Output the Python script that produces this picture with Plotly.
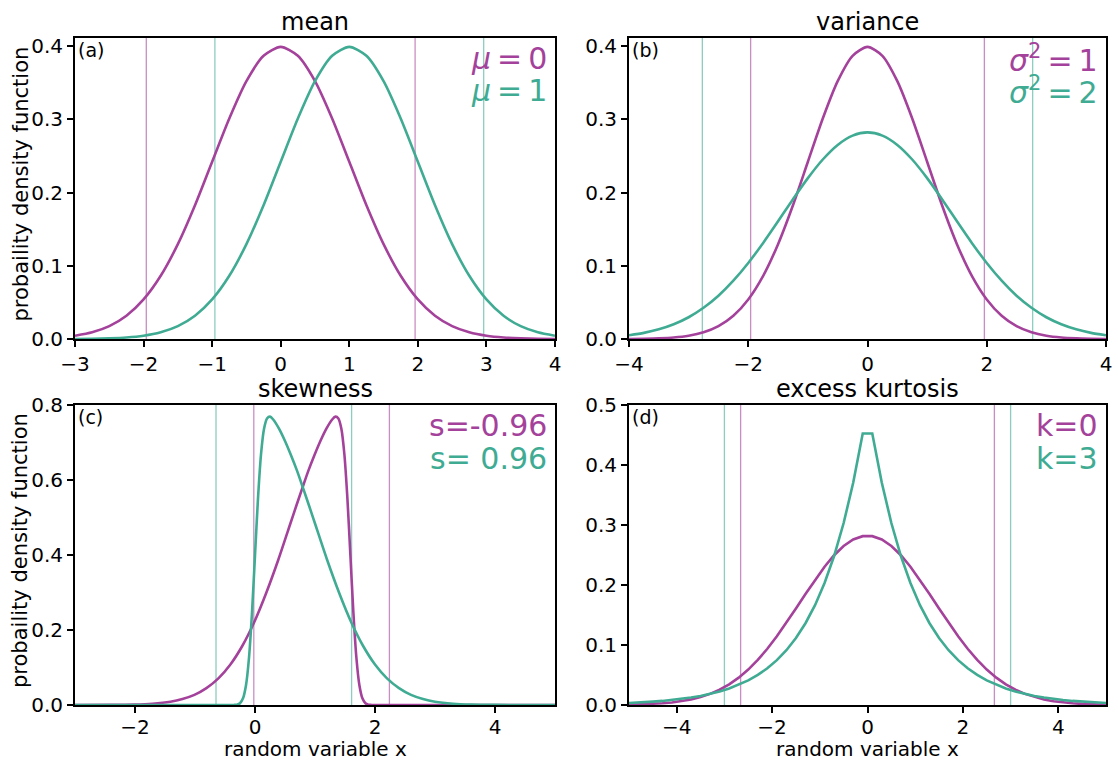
import plotly.graph_objects as go

W, H = 1118, 760
FONT = "DejaVu Sans"
PURPLE = "#a4429b"
TEAL = "#40ab93"
PURPLE_VLINE = "rgba(164,66,155,0.6)"
TEAL_VLINE = "rgba(64,171,147,0.6)"
THIN = "\u2009"

# ---------------- (a) mean ----------------
x_mean = [-3.0, -2.75, -2.5, -2.25, -2.0, -1.75, -1.5, -1.25, -1.0, -0.75, -0.5, -0.25,
          0.0, 0.25, 0.5, 0.75, 1.0, 1.25, 1.5, 1.75, 2.0, 2.25, 2.5, 2.75, 3.0, 3.25,
          3.5, 3.75, 4.0]
pdf_mu0 = [0.0044, 0.0091, 0.0175, 0.0317, 0.0540, 0.0863, 0.1295, 0.1826, 0.2420, 0.3011,
           0.3521, 0.3867, 0.3989, 0.3867, 0.3521, 0.3011, 0.2420, 0.1826, 0.1295, 0.0863,
           0.0540, 0.0317, 0.0175, 0.0091, 0.0044, 0.0020, 0.0009, 0.0004, 0.0001]
pdf_mu1 = [0.0001, 0.0004, 0.0009, 0.0020, 0.0044, 0.0091, 0.0175, 0.0317, 0.0540, 0.0863,
           0.1295, 0.1826, 0.2420, 0.3011, 0.3521, 0.3867, 0.3989, 0.3867, 0.3521, 0.3011,
           0.2420, 0.1826, 0.1295, 0.0863, 0.0540, 0.0317, 0.0175, 0.0091, 0.0044]
bounds_mu0 = [-1.96, 1.96]
bounds_mu1 = [-0.96, 2.96]

# ---------------- (b) variance ----------------
x_var = [-4.0, -3.75, -3.5, -3.25, -3.0, -2.75, -2.5, -2.25, -2.0, -1.75, -1.5, -1.25,
         -1.0, -0.75, -0.5, -0.25, 0.0, 0.25, 0.5, 0.75, 1.0, 1.25, 1.5, 1.75, 2.0, 2.25,
         2.5, 2.75, 3.0, 3.25, 3.5, 3.75, 4.0]
pdf_var1 = [0.0001, 0.0004, 0.0009, 0.0020, 0.0044, 0.0091, 0.0175, 0.0317, 0.0540, 0.0863,
            0.1295, 0.1826, 0.2420, 0.3011, 0.3521, 0.3867, 0.3989, 0.3867, 0.3521, 0.3011,
            0.2420, 0.1826, 0.1295, 0.0863, 0.0540, 0.0317, 0.0175, 0.0091, 0.0044, 0.0020,
            0.0009, 0.0004, 0.0001]
pdf_var2 = [0.0052, 0.0084, 0.0132, 0.0201, 0.0297, 0.0426, 0.0591, 0.0796, 0.1038, 0.1312,
            0.1607, 0.1909, 0.2197, 0.2451, 0.2650, 0.2777, 0.2821, 0.2777, 0.2650, 0.2451,
            0.2197, 0.1909, 0.1607, 0.1312, 0.1038, 0.0796, 0.0591, 0.0426, 0.0297, 0.0201,
            0.0132, 0.0084, 0.0052]
bounds_var1 = [-1.96, 1.96]
bounds_var2 = [-2.77, 2.77]

# ---------------- (c) skewness ----------------
x_skew_pos = [-3.0, -1.0, -0.5, -0.4, -0.35, -0.3, -0.25, -0.2, -0.15, -0.1, -0.05, 0.0,
              0.05, 0.1, 0.15, 0.2, 0.25, 0.3, 0.4, 0.5, 0.6, 0.7, 0.8, 0.9, 1.0, 1.2,
              1.4, 1.6, 1.8, 2.0, 2.2, 2.4, 2.6, 2.8, 3.0, 3.3, 3.6, 4.0, 4.5, 5.0]
pdf_skew_pos = [0.0, 0.0, 0.0, 0.00002, 0.0002, 0.001, 0.0048, 0.0178, 0.0527, 0.126,
                0.246, 0.399, 0.551, 0.668, 0.736, 0.764, 0.769, 0.762, 0.737, 0.704,
                0.666, 0.625, 0.579, 0.532, 0.484, 0.388, 0.300, 0.222, 0.158, 0.108,
                0.071, 0.045, 0.027, 0.016, 0.0089, 0.0035, 0.0012, 0.0003, 0.00003, 0.0]
x_skew_neg = [-3.0, -2.41, -2.01, -1.71, -1.41, -1.21, -1.01, -0.81, -0.61, -0.41, -0.21,
              -0.01, 0.19, 0.39, 0.59, 0.69, 0.79, 0.89, 0.99, 1.09, 1.19, 1.29, 1.34,
              1.39, 1.44, 1.49, 1.54, 1.59, 1.64, 1.69, 1.74, 1.79, 1.84, 1.89, 1.94,
              1.99, 2.09, 2.59, 5.0]
pdf_skew_neg = [0.0, 0.0003, 0.0012, 0.0035, 0.0089, 0.016, 0.027, 0.045, 0.071, 0.108,
                0.158, 0.222, 0.300, 0.388, 0.484, 0.532, 0.579, 0.625, 0.666, 0.704,
                0.737, 0.762, 0.769, 0.764, 0.736, 0.668, 0.551, 0.399, 0.246, 0.126,
                0.0527, 0.0178, 0.0048, 0.001, 0.0002, 0.00002, 0.0, 0.0, 0.0]
bounds_skew_neg = [-0.02, 2.24]
bounds_skew_pos = [-0.65, 1.61]

# ---------------- (d) excess kurtosis ----------------
x_kurt = [-5.0, -4.9, -4.7, -4.5, -4.3, -4.1, -3.9, -3.7, -3.5, -3.3, -3.1, -2.9, -2.7,
          -2.5, -2.3, -2.1, -1.9, -1.7, -1.5, -1.3, -1.1, -0.9, -0.7, -0.5, -0.3, -0.1,
          0.1, 0.3, 0.5, 0.7, 0.9, 1.1, 1.3, 1.5, 1.7, 1.9, 2.1, 2.3, 2.5, 2.7, 2.9,
          3.1, 3.3, 3.5, 3.7, 3.9, 4.1, 4.3, 4.5, 4.7, 4.9, 5.0]
pdf_k0 = [0.0005, 0.0007, 0.0011, 0.0018, 0.0028, 0.0042, 0.0063, 0.0092, 0.0132, 0.0185,
          0.0255, 0.0344, 0.0456, 0.0591, 0.0752, 0.0937, 0.1144, 0.1370, 0.1607, 0.1849,
          0.2085, 0.2304, 0.2496, 0.2650, 0.2758, 0.2814,
          0.2814, 0.2758, 0.2650, 0.2496, 0.2304, 0.2085, 0.1849, 0.1607, 0.1370, 0.1144,
          0.0937, 0.0752, 0.0591, 0.0456, 0.0344, 0.0255, 0.0185, 0.0132, 0.0092, 0.0063,
          0.0042, 0.0028, 0.0018, 0.0011, 0.0007, 0.0005]
pdf_k3 = [0.0034, 0.0037, 0.0045, 0.0056, 0.0068, 0.0083, 0.0101, 0.0124, 0.0151, 0.0184,
          0.0225, 0.0275, 0.0336, 0.0410, 0.0501, 0.0612, 0.0748, 0.0913, 0.1116, 0.1363,
          0.1664, 0.2033, 0.2483, 0.3033, 0.3704, 0.4524,
          0.4524, 0.3704, 0.3033, 0.2483, 0.2033, 0.1664, 0.1363, 0.1116, 0.0913, 0.0748,
          0.0612, 0.0501, 0.0410, 0.0336, 0.0275, 0.0225, 0.0184, 0.0151, 0.0124, 0.0101,
          0.0083, 0.0068, 0.0056, 0.0045, 0.0037, 0.0034]
bounds_k0 = [-2.66, 2.66]
bounds_k3 = [-3.0, 3.0]

# ---------------- panel definitions ----------------
panels = [
    dict(ax="", title="mean", tag="(a)", xr=[-3, 4], yr=[0, 0.411], xt=[-3, -2, -1, 0, 1, 2, 3, 4],
         yt=[0.0, 0.1, 0.2, 0.3, 0.4],
         curves=[(x_mean, pdf_mu0, PURPLE, "spline"), (x_mean, pdf_mu1, TEAL, "spline")],
         vlines=[(bounds_mu0, PURPLE_VLINE), (bounds_mu1, TEAL_VLINE)],
         labels=[(f"<i>μ</i>{THIN}={THIN}0", PURPLE), (f"<i>μ</i>{THIN}={THIN}1", TEAL)]),
    dict(ax="2", title="variance", tag="(b)", xr=[-4, 4], yr=[0, 0.411], xt=[-4, -2, 0, 2, 4],
         yt=[0.0, 0.1, 0.2, 0.3, 0.4],
         curves=[(x_var, pdf_var1, PURPLE, "spline"), (x_var, pdf_var2, TEAL, "spline")],
         vlines=[(bounds_var1, PURPLE_VLINE), (bounds_var2, TEAL_VLINE)],
         labels=[(f"<i>σ</i><sup>2</sup>{THIN}={THIN}1", PURPLE),
                 (f"<i>σ</i><sup>2</sup>{THIN}={THIN}2", TEAL)]),
    dict(ax="3", title="skewness", tag="(c)", xr=[-3, 5], yr=[0, 0.8], xt=[-2, 0, 2, 4],
         yt=[0.0, 0.2, 0.4, 0.6, 0.8],
         curves=[(x_skew_neg, pdf_skew_neg, PURPLE, "spline"), (x_skew_pos, pdf_skew_pos, TEAL, "spline")],
         vlines=[(bounds_skew_neg, PURPLE_VLINE), (bounds_skew_pos, TEAL_VLINE)],
         labels=[("s=-0.96", PURPLE), ("s= 0.96", TEAL)]),
    dict(ax="4", title="excess kurtosis", tag="(d)", xr=[-5, 5], yr=[0, 0.5], xt=[-4, -2, 0, 2, 4],
         yt=[0.0, 0.1, 0.2, 0.3, 0.4, 0.5],
         curves=[(x_kurt, pdf_k0, PURPLE, "linear"), (x_kurt, pdf_k3, TEAL, "linear")],
         vlines=[(bounds_k0, PURPLE_VLINE), (bounds_k3, TEAL_VLINE)],
         labels=[("k=0", PURPLE), ("k=3", TEAL)]),
]

# plot-area boxes in pixels: (left, right, top, bottom)
boxes = [(75, 555, 38, 339), (629, 1106, 38, 339), (75, 555, 405, 705), (629, 1106, 405, 705)]


def fx(px):
    return px / W


def fy(py):
    return 1 - py / H


fig = go.Figure()
annotations = []
shapes = []
layout_axes = {}

for i, (p, (l, r, t, b)) in enumerate(zip(panels, boxes)):
    xa, ya = "x" + p["ax"], "y" + p["ax"]
    for xs, ys, color, shape in p["curves"]:
        fig.add_trace(go.Scatter(x=xs, y=ys, mode="lines", xaxis=xa, yaxis=ya,
                                 line=dict(color=color, width=2.6, shape=shape, smoothing=0.7),
                                 showlegend=False, hoverinfo="skip"))
    for xs, color in p["vlines"]:
        for xv in xs:
            shapes.append(dict(type="line", xref=xa, yref=ya + " domain", x0=xv, x1=xv,
                               y0=0, y1=1, line=dict(color=color, width=1.3), layer="below"))
    common = dict(showline=True, linecolor="black", linewidth=2, mirror=True,
                  ticks="outside", ticklen=6, tickwidth=1.5, tickcolor="black",
                  showgrid=False, zeroline=False, automargin=False,
                  tickfont=dict(family=FONT, size=20, color="black"))
    layout_axes["xaxis" + p["ax"]] = dict(common, domain=[fx(l), fx(r)], range=p["xr"],
                                          tickvals=p["xt"], anchor=ya,
                                          ticklabelstandoff=-3 if i >= 2 else 0)
    layout_axes["yaxis" + p["ax"]] = dict(common, domain=[fy(b), fy(t)], range=p["yr"],
                                          tickvals=p["yt"], tickformat=".1f", anchor=xa)
    # title above each panel
    annotations.append(dict(text=p["title"], x=fx((l + r) / 2), y=fy(t - 16), xref="paper",
                            yref="paper", xanchor="center", yanchor="middle", showarrow=False,
                            font=dict(family=FONT, size=24, color="black")))
    # panel tag
    annotations.append(dict(text=p["tag"], x=fx(l + 1), y=fy(t + 12), xref="paper",
                            yref="paper", xanchor="left", yanchor="middle", showarrow=False,
                            font=dict(family=FONT, size=19, color="black")))
    # series labels, right aligned in the upper corner
    for k, (txt, color) in enumerate(p["labels"]):
        annotations.append(dict(text=txt, x=fx(r - 6), y=fy(t + 20 + 33 * k), xref="paper",
                                yref="paper", xanchor="right", yanchor="middle", showarrow=False,
                                font=dict(family=FONT, size=30, color=color)))

# shared axis titles
for (l, r, t, b) in boxes[:4:2]:
    annotations.append(dict(text="probaility density function", x=fx(20), y=fy((t + b) / 2 - 4),
                            xref="paper", yref="paper", xanchor="center", yanchor="middle",
                            textangle=-90, showarrow=False,
                            font=dict(family=FONT, size=21, color="black")))
for (l, r, t, b) in boxes[2:]:
    annotations.append(dict(text="random variable x", x=fx((l + r) / 2), y=fy(749),
                            xref="paper", yref="paper", xanchor="center", yanchor="middle",
                            showarrow=False, font=dict(family=FONT, size=20, color="black")))

fig.update_layout(width=W, height=H, margin=dict(l=0, r=0, t=0, b=0, autoexpand=False),
                  paper_bgcolor="white", plot_bgcolor="white",
                  font=dict(family=FONT, color="black"),
                  annotations=annotations, shapes=shapes, **layout_axes)

fig.write_html("out.html")
